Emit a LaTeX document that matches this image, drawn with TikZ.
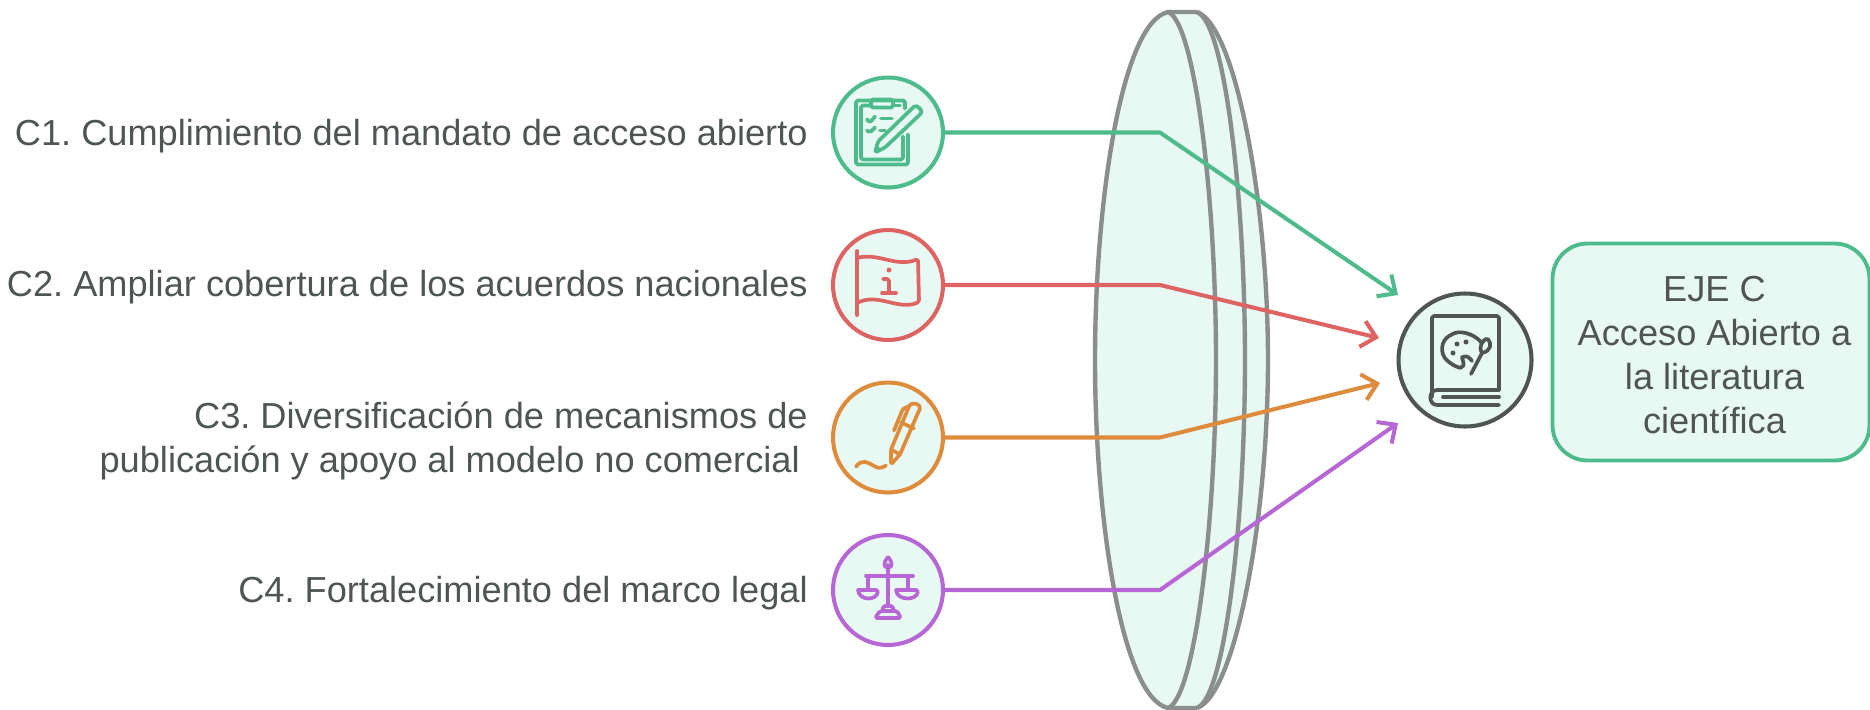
\documentclass[tikz,border=0pt]{standalone}
\usepackage{fontspec}
\setmainfont{Liberation Sans}
\usetikzlibrary{arrows.meta}
\definecolor{lensfill}{HTML}{E8F8F2}
\definecolor{lensline}{HTML}{8A8F8D}
\definecolor{inktext}{HTML}{4F5553}
\definecolor{cgreen}{HTML}{4DBB8B}
\definecolor{cred}{HTML}{DD6462}
\definecolor{corange}{HTML}{DE8B3C}
\definecolor{cpurple}{HTML}{B766D6}
\tikzset{
  label/.style={text=inktext,anchor=east,align=right,inner sep=0pt,font=\fontsize{20.6}{25.4}\selectfont\frenchspacing},
  iconcircle/.style={circle,draw=#1,fill=lensfill,line width=2.3pt,minimum size=2.2cm,inner sep=0pt},
  link/.style={draw=#1,line width=2.3pt,line cap=round,line join=round,-{Straight Barb[length=8pt,width=15pt,line width=2.3pt]}},
  iconline/.style={draw=#1,line width=2.1pt,line cap=round,line join=round,rounded corners=1pt},
}
\begin{document}
\begin{tikzpicture}[x=0.02cm,y=-0.02cm]
\useasboundingbox (0,0) rectangle (1870,710);
% lens
\fill [lensfill] (1168,12) .. controls (1122,22) and (1095,200) .. (1095,360) .. controls (1095,520) and (1122,698) .. (1168,708) -- (1197,708) .. controls (1235,695) and (1268,520) .. (1268,360) .. controls (1268,200) and (1235,25) .. (1197,12) -- cycle;
\draw [lensline,line width=2.5pt,line join=round] (1197,12) -- (1168,12) .. controls (1122,22) and (1095,200) .. (1095,360) .. controls (1095,520) and (1122,698) .. (1168,708) -- (1197,708);
\draw [lensline,line width=2.5pt] (1168,12) .. controls (1195,22) and (1216,200) .. (1216,360) .. controls (1216,520) and (1195,698) .. (1168,708);
\draw [lensline,line width=2.5pt] (1197,12) .. controls (1225,22) and (1245,200) .. (1245,360) .. controls (1245,520) and (1225,698) .. (1197,708);
\draw [lensline,line width=2.5pt] (1197,12) .. controls (1235,25) and (1268,200) .. (1268,360) .. controls (1268,520) and (1235,695) .. (1197,708);
% nodes
\node [iconcircle=cgreen] (c1) at (888,132.5) {};
\node [iconcircle=cred] (c2) at (888,285) {};
\node [iconcircle=corange] (c3) at (888,437.5) {};
\node [iconcircle=cpurple] (c4) at (888,590) {};
\node [circle,draw=inktext,fill=lensfill,line width=2.3pt,minimum size=133*0.02cm,inner sep=0pt] (hub) at (1465,360) {};
\node [draw=cgreen,fill=lensfill,line width=2.2pt,rounded corners=0.7cm,minimum width=6.34cm,minimum height=4.34cm,inner sep=0pt] (eje) at (1711,352) {};
\node [align=center,inner sep=0pt,text=inktext,font=\fontsize{20.6}{24.9}\selectfont] (ejetext) at (1714.5,355) {EJE C\\Acceso Abierto a\\la literatura\\científica};
\node [label] (t1) at (808,136) {C1. Cumplimiento del mandato de acceso abierto};
\node [label] (t2) at (808,287.5) {C2. Ampliar cobertura de los acuerdos nacionales};
\node [label] (t3) at (808,441) {C3. Diversificación de mecanismos de\\publicación y apoyo al modelo no comercial\kern4.5pt};
\node [label] (t4) at (808,593) {C4. Fortalecimiento del marco legal};
% connectors
\coordinate (b1) at (1160,132.5);
\coordinate (b2) at (1160,285);
\coordinate (b3) at (1160,437.5);
\coordinate (b4) at (1160,590);
\coordinate (e1) at (1398,295);
\coordinate (e2) at (1379,338);
\coordinate (e3) at (1380,383);
\coordinate (e4) at (1398,423);
\draw [link=cgreen] (c1) -- (b1) -- (e1);
\draw [link=cred] (c2) -- (b2) -- (e2);
\draw [link=corange] (c3) -- (b3) -- (e3);
\draw [link=cpurple] (c4) -- (b4) -- (e4);
% clipboard
\begin{scope}[shift={(c1)},iconline=cgreen]
\draw (20,2) -- (20,32) -- (-32,32) -- (-32,-32) -- (17,-32) -- (17,-24);
\draw (15,4) -- (15,27) -- (-27,27) -- (-27,-27) -- (-17,-27);
\draw (5,-27) -- (12,-27);
\draw (-17,-33) rectangle (5,-25);
\draw (-21,-13) -- (-18,-10) -- (-13,-16);
\draw (-7,-14) -- (4,-14);
\draw (-21,-2) -- (-18,0) -- (-13,-5);
\draw (-8,-2) -- (-3,-2);
\draw (-13,20) -- (-10,9) -- (25,-25) .. controls (29,-28) and (35,-22) .. (32,-18) -- (-3,15) -- cycle;
\fill [cgreen] (-13,20) -- (-11,13) -- (-6,17) -- cycle;
\end{scope}
% flag
\begin{scope}[shift={(c2)},iconline=cred]
\draw (-31,-34) -- (-31,30);
\draw (-31,-27) .. controls (-10,-33) and (8,-17) .. (30,-26) -- (31,17) .. controls (10,26) and (-10,7) .. (-31,18);
\fill [cred] (1,-15) circle (2.5);
\draw (-5,-6) -- (1,-6) -- (1,8);
\draw (-6,8) -- (8,8);
\end{scope}
% pen
\begin{scope}[shift={(c3)},iconline=corange]
\draw (3,27) -- (3,12) -- (21,-31) .. controls (24,-36) and (34,-33) .. (31,-27) -- (12,17) -- cycle;
\draw (6,-7) -- (15,-29) -- (21,-31);
\draw (13,-15) -- (26,-9);
\draw (3,12) -- (12,17);
\draw (-32,29) .. controls (-26,21) and (-20,25) .. (-13,29) .. controls (-9,31) and (-5,30) .. (-2,28);
\end{scope}
% scales
\begin{scope}[shift={(c4)},iconline=cpurple]
\draw (0,-25) -- (0,16);
\draw (0,-33) .. controls (-6,-26) and (-3,-23) .. (0,-23) .. controls (3,-23) and (6,-26) .. (0,-33);
\draw (-22,-14) -- (25,-14);
\draw (-20,-14) -- (-20,-1);
\draw (20,-14) -- (20,-1);
\draw (-30,0) -- (-10,0) .. controls (-11,11) and (-29,11) .. (-30,0);
\draw (8,0) -- (30,0) .. controls (29,11) and (9,11) .. (8,0);
\draw (-8,21) -- (9,21) -- (13,28) -- (-13,28) -- cycle;
\draw (-5,21) -- (-5,16) -- (5,16) -- (5,21);
\end{scope}
% book
\begin{scope}[shift={(hub)},iconline=inktext]
\draw (34,30) -- (-26,30) .. controls (-37,30) and (-37,45) .. (-26,45) -- (34,45);
\draw (-33,37) -- (-33,-44) -- (34,-44) -- (34,30);
\draw (-22,37) -- (34,37);
\draw (16,-18) .. controls (8,-27) and (-6,-30) .. (-14,-25) .. controls (-24,-20) and (-26,-6) .. (-16,2) .. controls (-11,6) and (-5,8) .. (-3,7) .. controls (0,4) and (-4,-3) .. (-1,-3) .. controls (2,-4) and (5,-2) .. (7,1);
\draw (6,14) -- (17,-7);
\draw (17,-7) .. controls (13,-14) and (18,-19) .. (22,-22) .. controls (27,-16) and (26,-9) .. (17,-7);
\fill [inktext] (-8,-16) circle (2.5) (1,-18) circle (2.5) (-12,-7) circle (2.5);
\end{scope}
\end{tikzpicture}
\end{document}
